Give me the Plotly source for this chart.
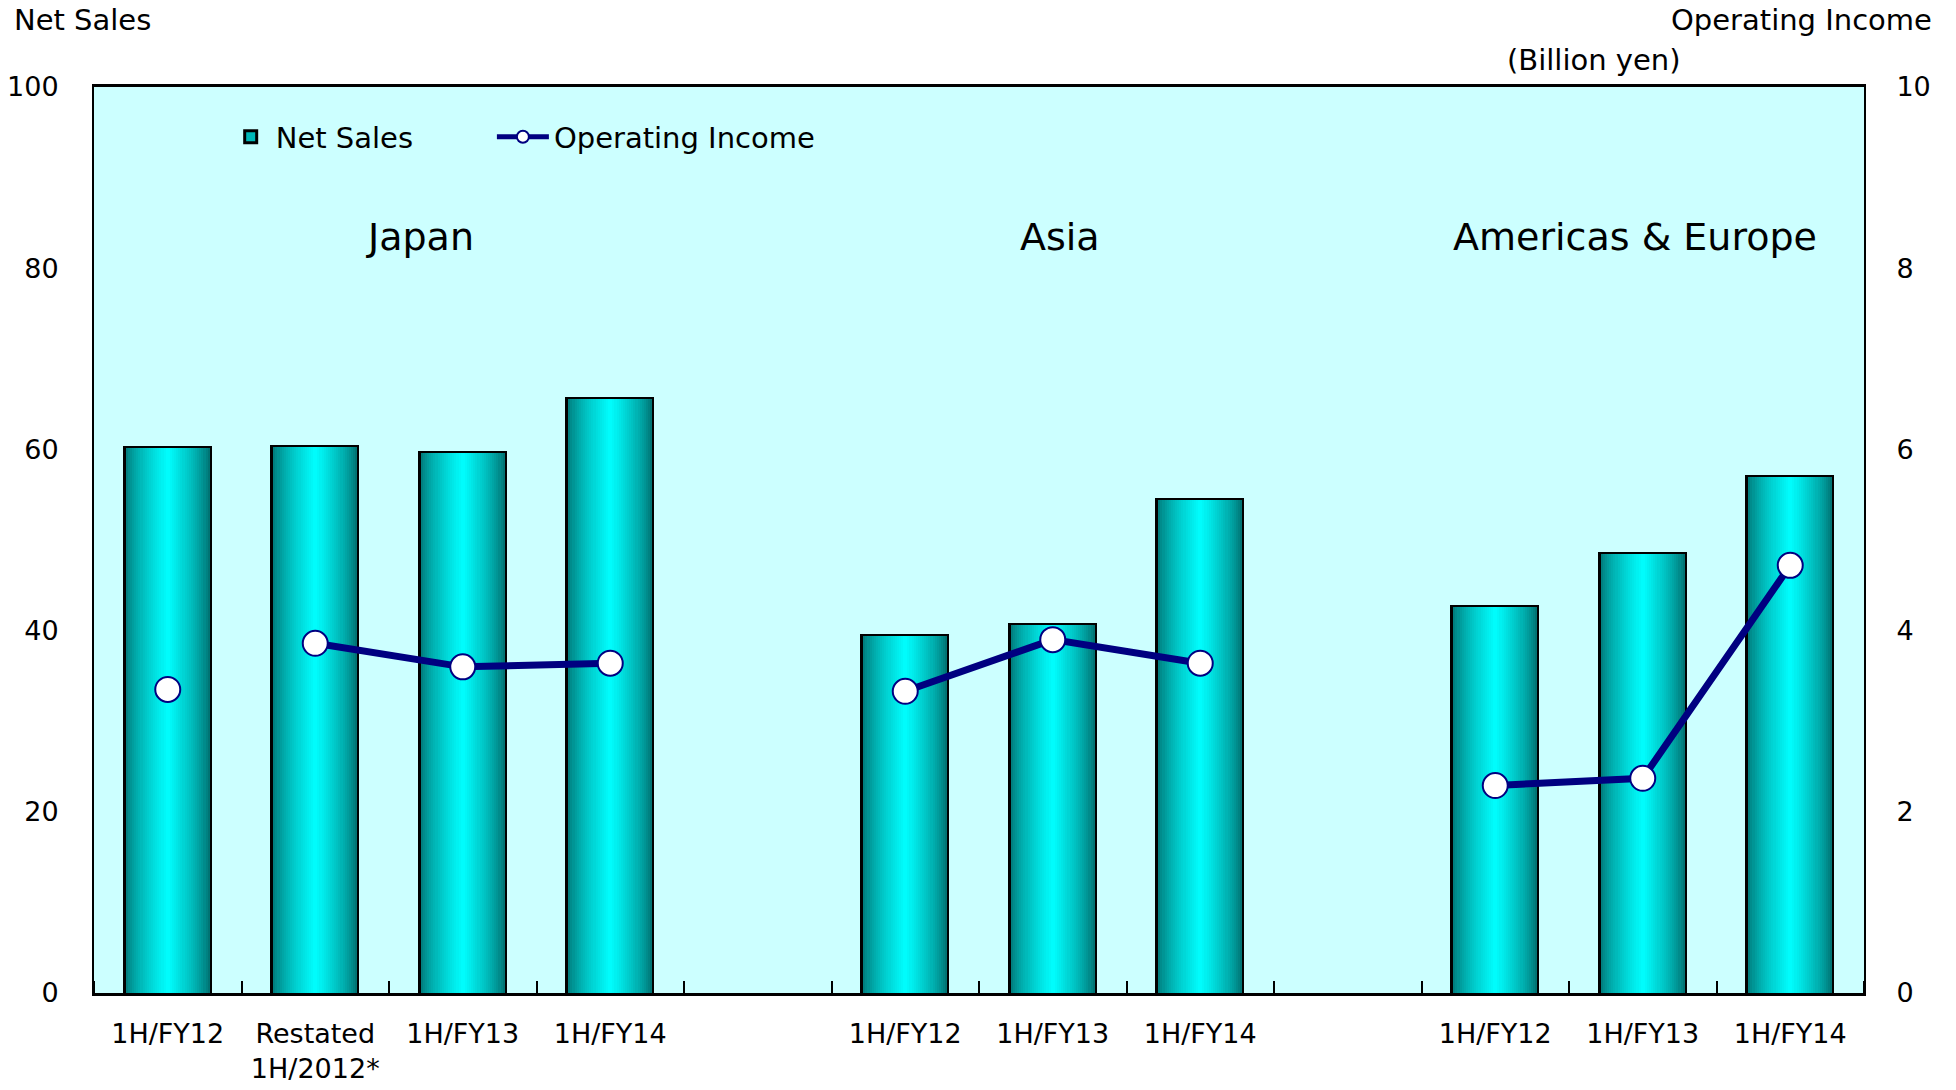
import plotly.graph_objects as go

# ---- data (billion yen) ----
regions = ["Japan", "Asia", "Americas & Europe"]

japan_labels = ["1H/FY12", "Restated<br>1H/2012*", "1H/FY13", "1H/FY14"]
japan_sales = [60.1, 60.3, 59.6, 65.6]
japan_income = [3.35, 3.86, 3.60, 3.64]

asia_labels = ["1H/FY12", "1H/FY13", "1H/FY14"]
asia_sales = [39.4, 40.6, 54.4]
asia_income = [3.33, 3.90, 3.64]

amer_labels = ["1H/FY12", "1H/FY13", "1H/FY14"]
amer_sales = [42.6, 48.5, 56.9]
amer_income = [2.29, 2.37, 4.72]

# the restated Japan figure starts a new line (different basis)
japan_line_break_before = 1

# ---- layout constants ----
FONT = "DejaVu Sans"
BAR_W = 0.585
N_STRIPS = 40
title_x = [1.71, 6.05, 9.95]

groups = [
    (japan_labels, japan_sales, japan_income, japan_line_break_before),
    (asia_labels, asia_sales, asia_income, None),
    (amer_labels, amer_sales, amer_income, None),
]

# slot positions: groups separated by one empty slot
bar_x, bar_y, tick_x, tick_text = [], [], [], []
line_x, line_y = [], []
pos = 0
for labels, sales, income, brk in groups:
    for i, (lab, s, inc) in enumerate(zip(labels, sales, income)):
        x = pos + i
        bar_x.append(x)
        bar_y.append(s)
        tick_x.append(x)
        tick_text.append(lab)
        if brk is not None and i == brk:
            line_x.append(None)
            line_y.append(None)
        line_x.append(x)
        line_y.append(inc)
    line_x.append(None)
    line_y.append(None)
    pos += len(labels) + 1
last_slot = bar_x[-1]


def strip_color(t):
    """Horizontal cylinder shading: dark teal edges, bright cyan centre."""
    peak = 0.5
    if t < peak:
        f = t / peak
        base = (0, 118, 118)
    else:
        f = (1 - t) / (1 - peak)
        base = (0, 105, 105)
    f = f ** 0.7
    g = int(base[1] + (255 - base[1]) * f)
    b = int(base[2] + (255 - base[2]) * f)
    return f"rgb(0,{g},{b})"


fig = go.Figure()

# bar body with outline (also provides the legend entry)
fig.add_trace(go.Bar(
    x=bar_x, y=bar_y, name="Net Sales",
    width=BAR_W, offset=-BAR_W / 2,
    marker=dict(color="#00B8B8", line=dict(color="black", width=3)),
    hoverinfo="skip", legend="legend",
))

# shading strips drawn over the bar body
inset = 0.008
inner_w = BAR_W - 2 * inset
step = inner_w / N_STRIPS
for k in range(N_STRIPS):
    t = (k + 0.5) / N_STRIPS
    w = step * 1.6 if k < N_STRIPS - 1 else step
    fig.add_trace(go.Bar(
        x=bar_x, y=bar_y, showlegend=False,
        width=w, offset=-BAR_W / 2 + inset + k * step,
        marker=dict(color=strip_color(t), line=dict(width=0)),
        hoverinfo="skip",
    ))

# operating income line on the secondary axis
fig.add_trace(go.Scatter(
    x=line_x, y=line_y, name="Operating Income", yaxis="y2",
    mode="lines+markers", connectgaps=False,
    line=dict(color="#000080", width=7),
    marker=dict(symbol="circle", size=25, color="white",
                line=dict(color="#000080", width=2)),
    legend="legend2",
))

annotations = []
for name, xpos in zip(regions, title_x):
    annotations.append(dict(
        text=name, x=xpos, xref="x", y=0.8344, yref="paper",
        showarrow=False, xanchor="center", yanchor="middle",
        font=dict(family=FONT, size=38, color="black"),
    ))
annotations += [
    dict(text="Net Sales", x=-0.0463, xref="paper", y=1.074, yref="paper",
         showarrow=False, xanchor="left", yanchor="middle",
         font=dict(family=FONT, size=29, color="black")),
    dict(text="Operating Income", x=1.0395, xref="paper", y=1.074, yref="paper",
         showarrow=False, xanchor="right", yanchor="middle",
         font=dict(family=FONT, size=29, color="black")),
    dict(text="(Billion yen)", x=0.847, xref="paper", y=1.0298, yref="paper",
         showarrow=False, xanchor="center", yanchor="middle",
         font=dict(family=FONT, size=29, color="black")),
]

legend_common = dict(
    orientation="h", xanchor="left", yanchor="top", y=0.973,
    bgcolor="rgba(0,0,0,0)", font=dict(family=FONT, size=29),
)

fig.update_layout(
    width=1956, height=1090,
    margin=dict(l=94, r=92, t=87, b=97, autoexpand=False),
    paper_bgcolor="white", plot_bgcolor="#CCFFFF",
    barmode="overlay", bargap=0,
    font=dict(family=FONT, color="black"),
    showlegend=True,
    legend=dict(x=0.0744, itemwidth=40, **legend_common),
    legend2=dict(x=0.2248, itemwidth=52, itemsizing="constant", **legend_common),
    xaxis=dict(
        range=[-0.5, last_slot + 0.5], automargin=False,
        tickmode="array", tickvals=tick_x, ticktext=tick_text,
        ticks="", ticklabelstandoff=15,
        tickfont=dict(family=FONT, size=27),
        showgrid=False, zeroline=False,
        showline=True, linecolor="black", linewidth=2.5, mirror=True,
        minor=dict(ticks="inside", tickmode="linear", tick0=0.5, dtick=1,
                   ticklen=12, tickwidth=2, tickcolor="black", showgrid=False),
    ),
    yaxis=dict(
        range=[0, 100], dtick=20, tick0=0, automargin=False,
        ticks="", ticklabelstandoff=28,
        tickfont=dict(family=FONT, size=27),
        showgrid=False, zeroline=False,
        showline=True, linecolor="black", linewidth=2,
    ),
    yaxis2=dict(
        range=[0, 10], dtick=2, tick0=0, overlaying="y", side="right",
        automargin=False,
        ticks="", ticklabelstandoff=25,
        tickfont=dict(family=FONT, size=27),
        showgrid=False, zeroline=False,
        showline=True, linecolor="black", linewidth=2,
    ),
    annotations=annotations,
)

fig.write_html("out.html")
